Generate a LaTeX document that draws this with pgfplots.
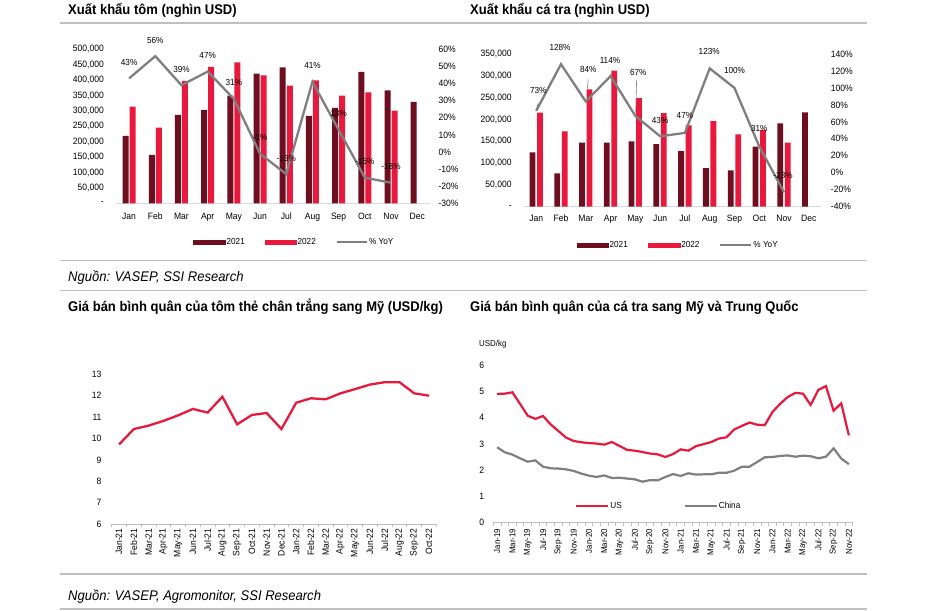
\documentclass[border=0pt]{standalone}
\usepackage{pgfplots}
\pgfplotsset{compat=1.18}
\usepackage{pgfplotstable}
\usepackage{fontspec}
\setmainfont{Liberation Sans}[FakeStretch=0.93]
\definecolor{darkred}{HTML}{6E0E1E}
\definecolor{brred}{HTML}{E8193C}
\definecolor{lgray}{HTML}{7F7F7F}
\definecolor{sepgray}{HTML}{BFBFBF}
\definecolor{axgray}{HTML}{D9D9D9}
\newcommand\tk{\fontsize{9.2}{10}\selectfont}
\newcommand\tks{\fontsize{8.5}{9}\selectfont}
\newcommand\lb{\fontsize{8.8}{10}\selectfont}
\newcommand\ttl{\fontsize{14}{16}\selectfont\bfseries}
\newcommand\src{\fontsize{14}{16}\selectfont\itshape}

\pgfplotstableread{
x a b
0 218600 313900
1 157000 245700
2 286800 397200
3 303000 442600
4 349600 457800
5 421000 415600
6 441600 382000
7 283500 399400
8 309500 349600
9 426400 360400
10 366900 300900
11 329000 nan
}\tombars
\pgfplotstableread{
x yoy
0 43
1 56
2 39
3 47
4 31
5 -1
6 -13
7 41
8 13
9 -15
10 -18
}\tomyoy
\pgfplotstableread{
x a b
0 124600 215500
1 76400 172700
2 146700 269000
3 146700 311800
4 149800 249100
5 143700 214700
6 127600 186500
7 88600 196400
8 83300 165800
9 137600 175800
10 191000 146700
11 216300 nan
}\cabars
\pgfplotstableread{
x yoy dx dy
0 73 2 20
1 128 -1 17
2 84 2.5 32.5
3 114 -0.6 16
4 67 3 43
5 43 0 16
6 47 0 17
7 123 -0.5 16.5
8 100 0 17
9 31 0 17.5
10 -23 -1 16.5
}\cayoy
\pgfplotstableread{
x v
0 9.72
1 10.44
2 10.6
3 10.82
4 11.08
5 11.38
6 11.21
7 11.95
8 10.66
9 11.1
10 11.19
11 10.44
12 11.67
13 11.88
14 11.83
15 12.11
16 12.31
17 12.52
18 12.63
19 12.63
20 12.11
21 12.0
}\tomgia
\pgfplotstableread{
x us cn
0 4.90 2.87
1 4.91 2.68
2 4.96 2.59
3 4.52 2.45
4 4.07 2.32
5 3.95 2.37
6 4.06 2.13
7 3.74 2.07
8 3.49 2.06
9 3.24 2.03
10 3.11 1.97
11 3.06 1.87
12 3.03 1.79
13 3.01 1.74
14 2.97 1.80
15 3.07 1.70
16 2.92 1.71
17 2.77 1.68
18 2.74 1.65
19 2.69 1.56
20 2.63 1.62
21 2.60 1.61
22 2.50 1.74
23 2.61 1.85
24 2.79 1.78
25 2.74 1.88
26 2.91 1.83
27 2.99 1.84
28 3.07 1.84
29 3.20 1.90
30 3.25 1.90
31 3.55 1.98
32 3.68 2.13
33 3.81 2.13
34 3.73 2.31
35 3.71 2.49
36 4.21 2.50
37 4.52 2.54
38 4.78 2.56
39 4.94 2.51
40 4.91 2.55
41 4.48 2.53
42 5.05 2.45
43 5.20 2.51
44 4.26 2.83
45 4.54 2.44
46 3.32 2.23
}\cadata

\pgfplotsset{
  every axis/.append style={scale only axis, anchor=south west, font=\tk},
  barbase/.style={
    xmin=-0.5, xmax=11.5,
    axis x line*=bottom, axis y line*=left,
    xtick pos=lower, xticklabel pos=lower, ytick pos=left, yticklabel pos=left,
    x axis line style={draw=axgray, line width=1.3pt},
    y axis line style={draw=none},
    major tick length=0pt,
    xtick={0,...,11}, xticklabels={Jan,Feb,Mar,Apr,May,Jun,Jul,Aug,Sep,Oct,Nov,Dec},
    xticklabel style={anchor=north, inner sep=0pt, text height=6.8pt, text depth=1.8pt, font=\tk},
    yticklabel style={anchor=east, inner sep=0pt, xshift=-12pt, font=\tk},
    scaled y ticks=false,
  },
  rightbase/.style={
    xmin=-0.5, xmax=11.5,
    axis y line*=right, axis x line*=bottom,
    xtick=\empty, ytick pos=right, yticklabel pos=right,
    x axis line style={draw=none}, y axis line style={draw=none},
    major tick length=0pt, clip=false,
    yticklabel style={anchor=west, inner sep=0pt, font=\tk},
    legend columns=-1,
    legend style={draw=none, fill=none, anchor=west, inner sep=0pt, font=\lb,
      nodes={inner sep=1pt, text=black},
      /tikz/every even column/.append style={column sep=19pt}},
  },
  linebase/.style={
    axis x line*=bottom, axis y line*=left,
    xtick pos=lower, xticklabel pos=lower, ytick pos=left, yticklabel pos=left,
    x axis line style={draw=sepgray, line width=0.9pt},
    y axis line style={draw=none},
    major tick length=0pt, minor tick length=3pt, tick align=outside,
    minor x tick style={draw=sepgray, line width=0.9pt},
    yticklabel style={anchor=east, inner sep=0pt, xshift=-10pt, font=\tk},
    /pgf/number format/assume math mode=true,
  },
}

\begin{document}
\begin{tikzpicture}[x=1pt,y=1pt]
\path[use as bounding box] (0,0) rectangle (925,610);

% titles and separators
\node[anchor=base west, inner sep=0pt, font=\ttl] at (68,595) {Xuất khẩu tôm (nghìn USD)};
\node[anchor=base west, inner sep=0pt, font=\ttl] at (470,595) {Xuất khẩu cá tra (nghìn USD)};
\draw[sepgray, line width=1.2pt] (60,587) -- (867,587);
\draw[sepgray, line width=1.2pt] (60,349.3) -- (867,349.3);
\node[anchor=base west, inner sep=0pt, font=\src] at (68,328.5) {Nguồn: VASEP, SSI Research};
\draw[sepgray, line width=1.2pt] (60,319.3) -- (867,319.3);
\node[anchor=base west, inner sep=0pt, font=\ttl] at (68,298.3) {Giá bán bình quân của tôm thẻ chân trắng sang Mỹ (USD/kg)};
\node[anchor=base west, inner sep=0pt, font=\ttl] at (470,298.3) {Giá bán bình quân của cá tra sang Mỹ và Trung Quốc};
\draw[sepgray, line width=1.2pt] (60,36) -- (867,36);
\node[anchor=base west, inner sep=0pt, font=\src] at (68,9.3) {Nguồn: VASEP, Agromonitor, SSI Research};
\draw[sepgray, line width=1.2pt] (60,1) -- (867,1);

% ---------- Panel 1: shrimp exports ----------
\begin{axis}[barbase, width=314.3pt, height=154pt, at={(116pt,406.7pt)},
  ymin=0, ymax=500000, ytick={0,50000,...,500000},
  yticklabels={-,{50,000},{100,000},{150,000},{200,000},{250,000},{300,000},{350,000},{400,000},{450,000},{500,000}},
  xticklabel style={yshift=-9pt}]
\addplot[ybar, bar width=6pt, bar shift=-3.5pt, fill=darkred, draw=none] table[x=x,y=a]{\tombars};
\addplot[ybar, bar width=6pt, bar shift=3.5pt, fill=brred, draw=none] table[x=x,y=b]{\tombars};
\end{axis}
\begin{axis}[rightbase, width=314.3pt, height=154pt, at={(116pt,406.7pt)},
  ymin=-30, ymax=60, ytick={-30,-20,...,60},
  yticklabels={-30\%,-20\%,-10\%,0\%,10\%,20\%,30\%,40\%,50\%,60\%},
  yticklabel style={xshift=8pt},
  legend style={at={(0.245,-0.251)}}]
\addlegendimage{legend image code/.code={\fill[darkred] (0pt,-2pt) rectangle (32pt,2pt);}}
\addlegendentry{2021}
\addlegendimage{legend image code/.code={\fill[brred] (0pt,-2pt) rectangle (31.4pt,2pt);}}
\addlegendentry{2022}
\addlegendimage{legend image code/.code={\draw[lgray, line width=2pt] (0pt,0pt) -- (30.3pt,0pt);}}
\addlegendentry{\% YoY}
\addplot[forget plot, lgray, line width=2.3pt, point meta=explicit symbolic,
  nodes near coords={\pgfplotspointmeta\%},
  every node near coord/.style={anchor=center, yshift=16pt, font=\lb, text=black, inner sep=0pt}]
  table[x=x,y=yoy,meta=yoy]{\tomyoy};
\end{axis}

% ---------- Panel 2: pangasius exports ----------
\begin{axis}[barbase, width=297.4pt, height=152.7pt, at={(523.8pt,403.3pt)},
  ymin=0, ymax=350000, ytick={0,50000,...,350000},
  yticklabels={-,{50,000},{100,000},{150,000},{200,000},{250,000},{300,000},{350,000}},
  xticklabel style={yshift=-8pt}]
\addplot[ybar, bar width=5.8pt, bar shift=-3.8pt, fill=darkred, draw=none] table[x=x,y=a]{\cabars};
\addplot[ybar, bar width=5.8pt, bar shift=3.7pt, fill=brred, draw=none] table[x=x,y=b]{\cabars};
\end{axis}
\begin{axis}[rightbase, width=297.4pt, height=152.7pt, at={(523.8pt,403.3pt)},
  ymin=-40, ymax=140, ytick={-40,-20,...,140},
  yticklabels={-40\%,-20\%,0\%,20\%,40\%,60\%,80\%,100\%,120\%,140\%},
  yticklabel style={xshift=9.5pt},
  legend style={at={(0.178,-0.251)}}]
\addlegendimage{legend image code/.code={\fill[darkred] (0pt,-2pt) rectangle (31.3pt,2pt);}}
\addlegendentry{2021}
\addlegendimage{legend image code/.code={\fill[brred] (0pt,-2pt) rectangle (32pt,2pt);}}
\addlegendentry{2022}
\addlegendimage{legend image code/.code={\draw[lgray, line width=2pt] (0pt,0pt) -- (31pt,0pt);}}
\addlegendentry{\% YoY}
\addplot[forget plot, lgray, line width=2.3pt, point meta=explicit symbolic,
  visualization depends on={\thisrow{dx} \as \mydx},
  visualization depends on={\thisrow{dy} \as \mydy},
  nodes near coords={\pgfplotspointmeta\%},
  every node near coord/.style={anchor=center, xshift=\mydx pt, yshift=\mydy pt, font=\lb, text=black, inner sep=0pt}]
  table[x=x,y=yoy,meta=yoy]{\cayoy};
\draw[lgray, line width=0.6pt] ([yshift=1pt]axis cs:0,73) -- ([xshift=2pt,yshift=8pt]axis cs:0,73);
\draw[lgray, line width=0.6pt] ([xshift=1.5pt,yshift=12pt]axis cs:2,84) -- ([xshift=2.5pt,yshift=22pt]axis cs:2,84);
\draw[lgray, line width=0.6pt] ([xshift=0.3pt,yshift=3pt]axis cs:4,67) -- ([xshift=1.3pt,yshift=36pt]axis cs:4,67);
\end{axis}

% ---------- Panel 3: shrimp price ----------
\begin{axis}[linebase, width=324.7pt, height=149.7pt, at={(111.7pt,86pt)},
  xmin=-0.5, xmax=21.5, ymin=6, ymax=13, ytick={6,...,13},
  xtick={0,...,21},
  xticklabels={Jan-21,Feb-21,Mar-21,Apr-21,May-21,Jun-21,Jul-21,Aug-21,Sep-21,Oct-21,Nov-21,Dec-21,Jan-22,Feb-22,Mar-22,Apr-22,May-22,Jun-22,Jul-22,Aug-22,Sep-22,Oct-22},
  minor xtick={-0.5,0.5,...,21.5},
  xticklabel style={rotate=90, anchor=east, inner xsep=4.3pt, inner ysep=0pt, font=\tk}]
\addplot[brred, line width=2.3pt] table[x=x,y=v]{\tomgia};
\end{axis}

% ---------- Panel 4: pangasius price ----------
\node[anchor=west, inner sep=0pt, font=\tks] at (479,266) {USD/kg};
\begin{axis}[linebase, width=359.4pt, height=157.7pt, at={(493.3pt,87.3pt)},
  xmin=-0.5, xmax=46.5, ymin=0, ymax=6, ytick={0,...,6},
  yticklabel style={xshift=1pt},
  xtick={0,2,...,46},
  xticklabels={Jan-19,Mar-19,May-19,Jul-19,Sep-19,Nov-19,Jan-20,Mar-20,May-20,Jul-20,Sep-20,Nov-20,Jan-21,Mar-21,May-21,Jul-21,Sep-21,Nov-21,Jan-22,Mar-22,May-22,Jul-22,Sep-22,Nov-22},
  minor xtick={-0.5,0.5,...,46.5},
  xticklabel style={rotate=90, anchor=east, inner xsep=6pt, inner ysep=0pt, font=\tks},
  legend columns=-1,
  legend image code/.code={\draw[#1] (0pt,0pt) -- (32pt,0pt);},
  legend style={draw=none, fill=none, at={(0.2273,0.106)}, anchor=west, inner sep=0pt, font=\lb,
    nodes={inner sep=1pt, text=black},
    /tikz/every even column/.append style={column sep=61pt}}]
\addplot[brred, line width=2.2pt] table[x=x,y=us]{\cadata};
\addlegendentry{US}
\addplot[lgray, line width=2.2pt] table[x=x,y=cn]{\cadata};
\addlegendentry{China}
\end{axis}
\end{tikzpicture}
\end{document}
